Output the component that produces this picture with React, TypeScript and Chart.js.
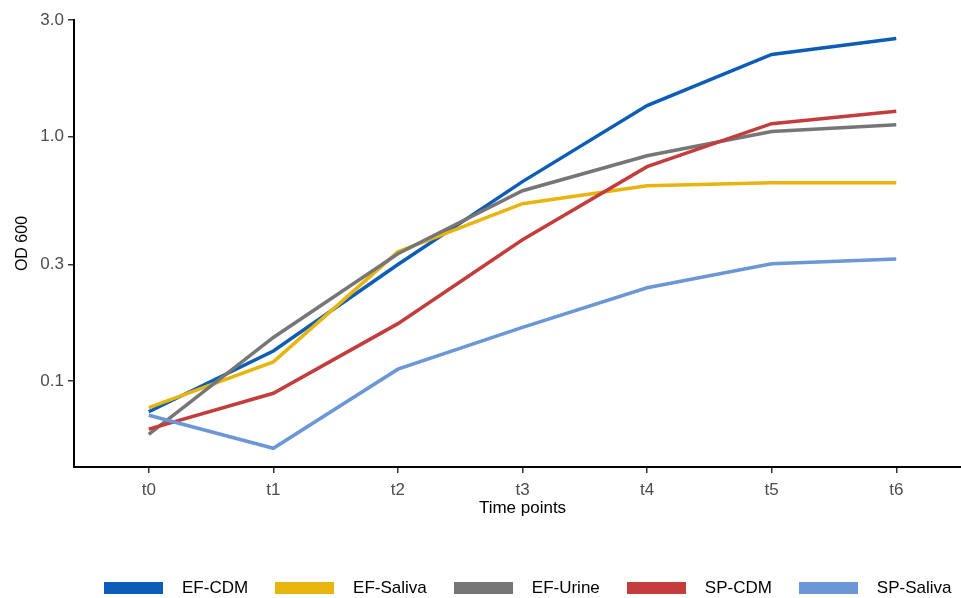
import React, { useEffect, useRef } from 'react';
import { Chart, registerables } from 'chart.js';

Chart.register(...registerables);

const timePoints = ['t0', 't1', 't2', 't3', 't4', 't5', 't6'];
const seriesNames = ['EF-CDM', 'EF-Saliva', 'EF-Urine', 'SP-CDM', 'SP-Saliva'];
const seriesColors = ['#0b5db7', '#e8b40e', '#767676', '#c43d3d', '#6b97d7'];
const efCdm = [0.075, 0.133, 0.3, 0.655, 1.34, 2.17, 2.52];
const efSaliva = [0.078, 0.12, 0.338, 0.532, 0.63, 0.648, 0.648];
const efUrine = [0.0607, 0.151, 0.332, 0.601, 0.836, 1.05, 1.12];
const spCdm = [0.0637, 0.0893, 0.172, 0.379, 0.754, 1.13, 1.27];
const spSaliva = [0.0726, 0.0532, 0.112, 0.166, 0.241, 0.302, 0.316];
const yTicks = [0.1, 0.3, 1.0, 3.0];
const yMin = 0.0446;
const yMax = 3.0;

const FAMILY = '"Liberation Sans", Arial, Helvetica, sans-serif';
const CANVAS_W = 1000;
const CANVAS_H = 620;

export default function App() {
  const ref = useRef<HTMLCanvasElement>(null);

  useEffect(() => {
    if (!ref.current) return;
    const seriesValues = [efCdm, efSaliva, efUrine, spCdm, spSaliva];
    const swatches = seriesColors.map((color) => {
      const c = document.createElement('canvas');
      c.width = 59;
      c.height = 12;
      const g = c.getContext('2d');
      if (g) {
        g.fillStyle = color;
        g.fillRect(0, 0, 59, 12);
      }
      return c;
    });

    const chart = new Chart(ref.current, {
      type: 'line',
      data: {
        datasets: seriesValues.map((vals, i) => ({
          label: seriesNames[i],
          data: vals.map((v, j) => ({ x: j, y: v })),
          borderColor: seriesColors[i],
          backgroundColor: seriesColors[i],
          borderWidth: 3.5,
          pointRadius: 0,
          pointHoverRadius: 0,
          tension: 0,
          fill: false,
          order: seriesNames.length - 1 - i,
        })),
      },
      options: {
        responsive: false,
        animation: false,
        devicePixelRatio: 1,
        layout: { padding: { top: 20, right: CANVAS_W - 971, left: 0, bottom: 13.5 } },
        plugins: {
          tooltip: { enabled: false },
          legend: {
            position: 'bottom',
            fullSize: false,
            labels: {
              usePointStyle: true,
              pointStyleWidth: 80,
              boxHeight: 12,
              padding: 16.5,
              color: '#000',
              font: { size: 17, family: FAMILY },
              generateLabels: (ch: any) =>
                Chart.defaults.plugins.legend.labels
                  .generateLabels(ch)
                  .map((l: any) => ({ ...l, pointStyle: swatches[l.datasetIndex], lineWidth: 0 })),
              sort: (a: any, b: any) => a.datasetIndex - b.datasetIndex,
            },
          },
        },
        scales: {
          x: {
            type: 'linear',
            min: -0.6,
            max: timePoints.length - 1 + 0.6,
            afterBuildTicks: (s: any) => {
              s.ticks = timePoints.map((_, i) => ({ value: i }));
            },
            afterFit: (s: any) => {
              s.height = 96;
            },
            ticks: {
              callback: (v: any) => timePoints[Number(v)] ?? '',
              color: '#4d4d4d',
              font: { size: 17, family: FAMILY },
              padding: 7,
              autoSkip: false,
              maxRotation: 0,
            },
            grid: { drawOnChartArea: false, drawTicks: true, tickLength: 6, color: '#333', lineWidth: 1.5 },
            border: { display: true, color: '#000', width: 2 },
            title: {
              display: true,
              text: 'Time points',
              color: '#000',
              font: { size: 17, family: FAMILY },
              padding: { top: 0, bottom: 44.8 },
            },
          },
          y: {
            type: 'logarithmic',
            min: yMin,
            max: yMax,
            afterBuildTicks: (s: any) => {
              s.ticks = yTicks.map((v) => ({ value: v }));
            },
            afterFit: (s: any) => {
              s.width = 74;
            },
            ticks: {
              callback: (v: any) => Number(v).toFixed(1),
              color: '#4d4d4d',
              font: { size: 17, family: FAMILY },
              padding: 4,
              autoSkip: false,
            },
            grid: { drawOnChartArea: false, drawTicks: true, tickLength: 6, color: '#333', lineWidth: 1.5 },
            border: { display: true, color: '#000', width: 2 },
            title: {
              display: true,
              text: 'OD 600',
              color: '#000',
              font: { size: 16, family: FAMILY },
              padding: { top: 12.5, bottom: 4 },
            },
          },
        },
      },
    } as any);
    return () => chart.destroy();
  }, []);

  return (
    <div
      style={{
        position: 'absolute',
        left: 0,
        top: 0,
        width: 961,
        height: 598,
        overflow: 'hidden',
        background: '#fff',
      }}
    >
      <canvas
        ref={ref}
        width={CANVAS_W}
        height={CANVAS_H}
        style={{ display: 'block', width: CANVAS_W, height: CANVAS_H }}
      />
    </div>
  );
}
